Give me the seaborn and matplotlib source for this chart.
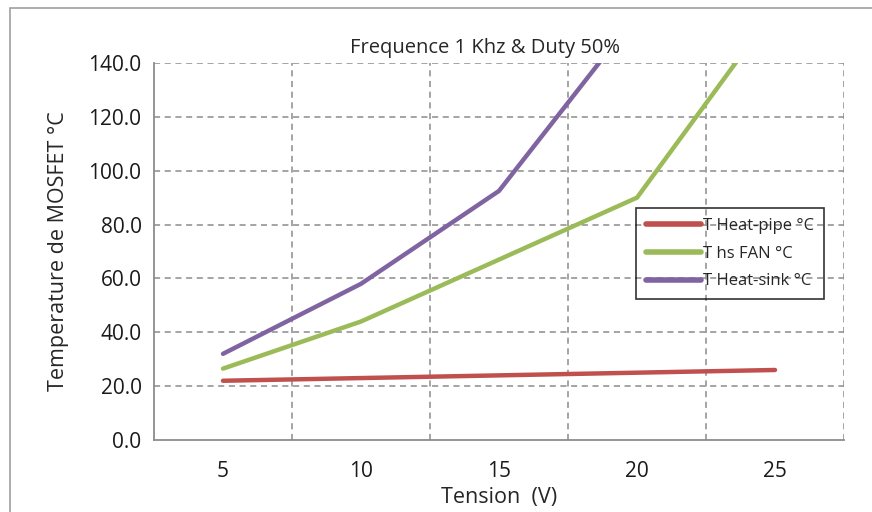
import matplotlib
matplotlib.use("Agg")
import matplotlib.pyplot as plt
import matplotlib.patches as mpatches
from matplotlib.ticker import FixedLocator, FormatStrFormatter
import seaborn as sns
import pandas as pd
import numpy as np

# Supply voltage categories (V)
tension = ["5", "10", "15", "20", "25"]

# MOSFET temperatures (°C) for each cooling setup
t_heat_pipe = [22.0, 23.0, 24.0, 25.0, 26.0]
t_hs_fan = [26.5, 44.0, 67.0, 90.0, 160.0]
t_heat_sink = [32.0, 58.0, 92.5, 158.0, np.nan]

series_names = ["T Heat-pipe °C", "T hs FAN °C", "T Heat-sink °C"]
series_colors = ["#C0504D", "#9BBB59", "#8064A2"]

df = pd.DataFrame({
    "Tension": tension * 3,
    "Temp": t_heat_pipe + t_hs_fan + t_heat_sink,
    "Serie": sum([[n] * len(tension) for n in series_names], []),
})

sns.set_style("white")
plt.rcParams["font.family"] = ["Open Sans", "DejaVu Sans"]

fig = plt.figure(figsize=(8.72, 5.12), dpi=100)
ax = fig.add_axes([154 / 872, 1 - 440 / 512, 690 / 872, 377 / 512])

sns.lineplot(data=df, x="Tension", y="Temp", hue="Serie",
             palette=dict(zip(series_names, series_colors)),
             linewidth=3.2, ax=ax, sort=False, solid_capstyle="round")

grid_col = "#8C8C8C"
ax.set_xlim(-0.5, len(tension) - 0.5)
ax.set_ylim(0, 140)
ax.set_yticks(np.arange(0, 141, 20))
ax.yaxis.set_major_formatter(FormatStrFormatter("%.1f"))
ax.set_xticks(range(len(tension)))
ax.set_xticklabels(tension)
ax.xaxis.set_minor_locator(FixedLocator(np.arange(-0.5, len(tension), 1.0)))

# Dashed grid: horizontal at value ticks, vertical at category boundaries
for yv in np.arange(20, 141, 20):
    ax.axhline(yv, color=grid_col, lw=1.1, ls=(0, (4, 3)), zorder=0)
for xv in np.arange(0.5, len(tension), 1.0):
    ax.axvline(xv, color=grid_col, lw=1.1, ls=(0, (4, 3)), zorder=0)

for s in ["top", "right"]:
    ax.spines[s].set_visible(False)
for s in ["left", "bottom"]:
    ax.spines[s].set_color(grid_col)
    ax.spines[s].set_linewidth(1.3)

ax.tick_params(axis="x", which="major", length=0, pad=15, labelsize=15)
ax.tick_params(axis="x", which="minor", length=6, width=1.3, color=grid_col, direction="out")
ax.tick_params(axis="y", which="major", length=6, width=1.3, color=grid_col,
               direction="out", labelsize=15, pad=3)
ax.tick_params(axis="both", labelcolor="#1a1a1a")

ax.set_xlabel("Tension  (V)", fontsize=15.5, labelpad=4)
ax.set_ylabel("Temperature de MOSFET °C", fontsize=15.5, labelpad=14)
ax.set_title("Frequence 1 Khz & Duty 50%", fontsize=14.5, pad=7, x=0.48)

leg = ax.legend(loc="upper left", bbox_to_anchor=(636 / 872, 1 - 208 / 512),
                bbox_transform=fig.transFigure, frameon=True, fancybox=False,
                fontsize=12, handlelength=3.3, handletextpad=0.1,
                borderpad=0.6, labelspacing=0.7, borderaxespad=0)
leg.get_frame().set_edgecolor("black")
leg.get_frame().set_linewidth(1.2)
leg.get_frame().set_facecolor("none")
for line in leg.get_lines():
    line.set_linewidth(4)

# Chart area outline
fig.patches.append(mpatches.Rectangle((10 / 872, -0.05), 1.1, 1 - 8 / 512 + 0.05,
                                      transform=fig.transFigure, fill=False,
                                      edgecolor="#A0A0A0", lw=1.2))

fig.savefig("out.png", dpi=100)
